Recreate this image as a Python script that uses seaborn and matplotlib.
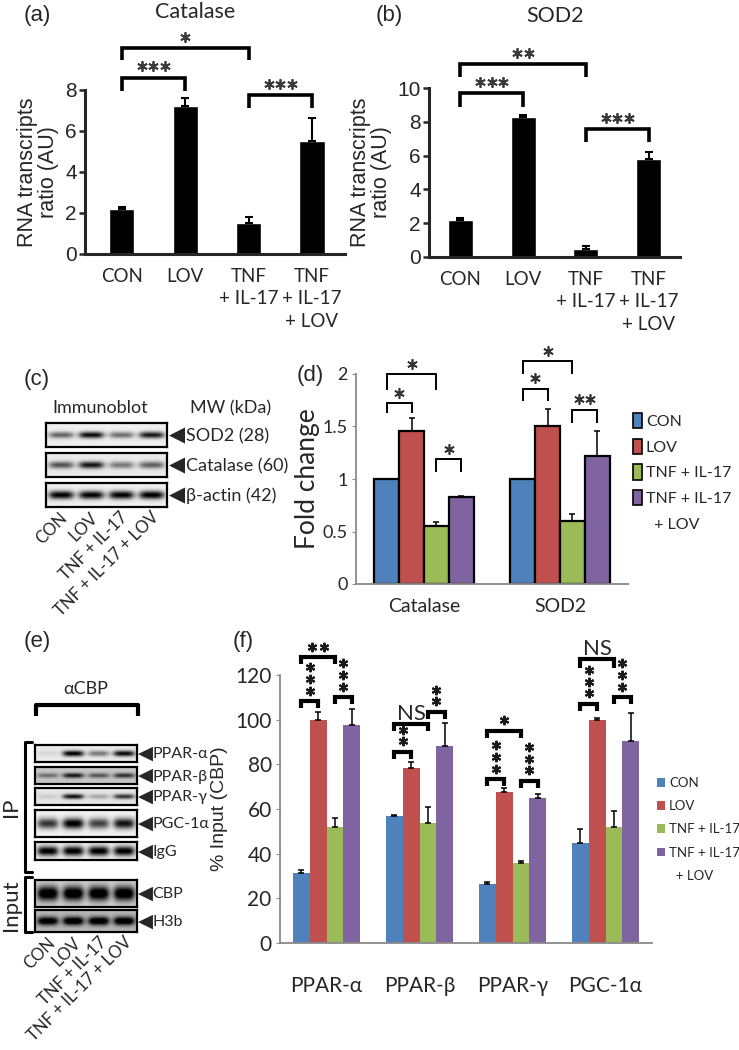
import numpy as np
import pandas as pd
import matplotlib
matplotlib.use("Agg")
import matplotlib.pyplot as plt
import matplotlib.transforms as mtrans
from matplotlib.patches import Patch
import seaborn as sns

W, H = 739, 1050

# ==================== data ====================
conds = ["CON", "LOV", "TNF + IL-17", "TNF + IL-17 + LOV"]
cond_ticks = ["CON", "LOV", "TNF\n+ IL-17", "TNF\n+ IL-17\n+ LOV"]

cat_rna = [2.2, 7.2, 1.5, 5.5]
cat_rna_err = [0.08, 0.42, 0.32, 1.15]
sod_rna = [2.2, 8.3, 0.45, 5.8]
sod_rna_err = [0.08, 0.08, 0.2, 0.42]

fold_genes = ["Catalase", "SOD2"]
fold_cat = [1.0, 1.46, 0.55, 0.83]
fold_cat_err = [0.0, 0.12, 0.04, 0.005]
fold_sod = [1.0, 1.5, 0.6, 1.22]
fold_sod_err = [0.0, 0.17, 0.07, 0.24]

cbp_targets = ["PPAR-α", "PPAR-β", "PPAR-γ", "PGC-1α"]
cbp_con = [31.2, 56.8, 26.4, 45.0]
cbp_con_err = [1.4, 0.3, 0.9, 6.0]
cbp_lov = [99.8, 78.3, 67.4, 99.8]
cbp_lov_err = [3.6, 2.7, 1.9, 0.8]
cbp_tnf = [52.0, 53.6, 35.9, 51.9]
cbp_tnf_err = [4.0, 7.4, 0.9, 7.3]
cbp_tnflov = [97.5, 88.2, 65.0, 90.5]
cbp_tnflov_err = [7.1, 10.2, 1.5, 12.6]

blot_c_rows = ["SOD2 (28)", "Catalase (60)", "β-actin (42)"]
blot_c_bands = [[0.55, 0.9, 0.5, 0.85], [0.6, 0.85, 0.45, 0.55], [0.95, 0.95, 0.95, 0.97]]
blot_c_bg = [0.06, 0.08, 0.06]
blot_c_thick = [0.28, 0.3, 0.35]

blot_e_rows = ["PPAR-α", "PPAR-β", "PPAR-γ", "PGC-1α", "IgG", "CBP", "H3b"]
blot_e_bands = [[0.08, 0.95, 0.45, 0.9], [0.35, 0.7, 0.45, 0.6], [0.1, 0.85, 0.25, 0.7],
                [0.75, 1.0, 0.7, 0.9], [1.0, 1.0, 1.0, 1.0], [1.0, 1.0, 1.0, 1.0],
                [0.85, 0.9, 0.9, 0.9]]
blot_e_bg = [0.08, 0.22, 0.1, 0.05, 0.05, 0.18, 0.28]
blot_e_thick = [0.35, 0.3, 0.3, 0.4, 0.55, 0.55, 0.4]

colors = ["#4F81BD", "#C0504D", "#9BBB59", "#8064A2"]

# ==================== setup ====================
sns.set_style("ticks")
plt.rcParams["font.family"] = ["Liberation Sans", "DejaVu Sans"]
NARROW = ["Lato", "DejaVu Sans"]

fig = plt.figure(figsize=(W / 100, H / 100), dpi=100)


def box(x0, y0, x1, y1):
    return [x0 / W, 1 - y1 / H, (x1 - x0) / W, (y1 - y0) / H]


def stars(ax, x, y, n, stack=False, step=8.0, lift=7.4, ms=7, mew=1.3, color="#333333"):
    # n six-armed asterisks above the bracket top at (x, y)
    for k in range(n):
        if stack:
            dx, dy = 0, lift + k * step
        else:
            dx, dy = (k - (n - 1) / 2) * step, lift
        tr = mtrans.offset_copy(ax.transData, fig=fig, x=dx, y=dy, units="points")
        ax.plot([x], [y], linestyle="none", marker=(6, 2, 0), ms=ms, mew=mew, color=color,
                transform=tr, clip_on=False)


def bracket(ax, xi, xj, y, leg, lw):
    ax.plot([xi, xi, xj, xj], [leg, y, y, leg], color="black", lw=lw, clip_on=False,
            solid_joinstyle="miter", solid_capstyle="butt")


# ==================== (a), (b) RNA ====================
def rna_panel(rect, vals, errs, ymax, xlim, brackets):
    ax = fig.add_axes(rect)
    sns.barplot(x=cond_ticks, y=vals, color="black", width=0.4, saturation=1,
                errorbar=None, ax=ax)
    ax.errorbar(range(4), vals, yerr=[np.zeros(4), errs], fmt="none", ecolor="black",
                elinewidth=1.5, capsize=3, capthick=1.5)
    ax.set_xlim(*xlim)
    ax.set_ylim(0, ymax)
    ax.set_yticks(range(0, ymax + 1, 2))
    sns.despine(ax=ax)
    for sp in ["left", "bottom"]:
        ax.spines[sp].set_linewidth(2.2)
    ax.tick_params(axis="y", direction="out", length=4, width=1.8, labelsize=15, pad=2)
    ax.tick_params(axis="x", length=0, pad=10)
    for t in ax.get_xticklabels():
        t.set_fontfamily(NARROW)
        t.set_fontsize(13.5)
        t.set_linespacing(1.4)
    ax.set_ylabel("RNA transcripts\nratio (AU)", fontsize=15.5, linespacing=1.0, labelpad=4)
    for i, j, y, leg, n in brackets:
        bracket(ax, i, j, y, leg, 2.6)
        stars(ax, (i + j) / 2, y, n, step=8.2, lift=8.2, ms=7.5, mew=1.3, color="#3a3a3a")
    return ax


ax_a = rna_panel(box(85, 90, 345, 254), cat_rna, cat_rna_err, 8, (-0.58, 3.52),
                 [(0, 1, 8.6, 7.95, 3), (0, 2, 10.05, 9.45, 1), (2, 3, 7.76, 7.12, 3)])
ax_b = rna_panel(box(429, 88, 680, 257), sod_rna, sod_rna_err, 10, (-0.5, 3.5),
                 [(0, 2, 11.42, 10.67, 2), (0, 1, 9.68, 8.9, 3), (2, 3, 7.55, 6.8, 3)])


# ==================== (d), (f) grouped bars ====================
def grouped(ax, groups, series, errs, width, edge):
    df = pd.DataFrame({
        "group": [g for g in groups for _ in conds],
        "cond": conds * len(groups),
        "val": [series[c][g] for g in range(len(groups)) for c in range(len(conds))],
    })
    sns.barplot(data=df, x="group", y="val", hue="cond", hue_order=conds, palette=colors,
                width=width, gap=0, saturation=1, errorbar=None, legend=False, ax=ax,
                edgecolor="black" if edge else "none", linewidth=1.6 if edge else 0)
    bar_sets = list(ax.containers)
    centers = np.zeros((len(groups), len(conds)))
    for h, cont in enumerate(bar_sets):
        for g, bar in enumerate(cont.patches):
            centers[g, h] = bar.get_x() + bar.get_width() / 2
    for h in range(len(conds)):
        for g in range(len(groups)):
            if errs[h][g] > 0:
                ax.errorbar(centers[g, h], series[h][g], yerr=[[0], [errs[h][g]]], fmt="none",
                            ecolor="black", elinewidth=1.1, capsize=2, capthick=1.1)
    return centers


def grey_axes(ax, ysize, xsize, xpad):
    sns.despine(ax=ax)
    for sp in ["left", "bottom"]:
        ax.spines[sp].set_color("#8a8a8a")
        ax.spines[sp].set_linewidth(1.3)
    ax.tick_params(axis="y", direction="out", length=3, color="#8a8a8a", labelsize=ysize, pad=3)
    ax.tick_params(axis="x", length=0, pad=xpad, labelsize=xsize)
    for t in ax.get_xticklabels() + ax.get_yticklabels():
        t.set_fontfamily(NARROW)
    ax.set_xlabel("")


ax_d = fig.add_axes(box(356, 374, 628, 584))
cen_d = grouped(ax_d, fold_genes, [list(v) for v in zip(fold_cat, fold_sod)],
                [list(v) for v in zip(fold_cat_err, fold_sod_err)], 0.73, True)
ax_d.set_xlim(-0.5, 1.5)
ax_d.set_ylim(0, 2)
ax_d.set_yticks([0, 0.5, 1, 1.5, 2])
ax_d.set_yticklabels(["0", "0.5", "1", "1.5", "2"])
grey_axes(ax_d, 13, 14, 10)
ax_d.set_ylabel("Fold change", fontsize=19, fontfamily=NARROW, labelpad=2)
for g, i, j, y, leg, n in [(0, 0, 1, 1.72, 1.63, 1), (0, 0, 2, 2.0, 1.85, 1),
                           (0, 2, 3, 1.19, 1.07, 1), (1, 0, 1, 1.86, 1.74, 1),
                           (1, 0, 2, 2.12, 2.0, 1), (1, 2, 3, 1.66, 1.53, 2)]:
    xi, xj = cen_d[g, i], cen_d[g, j]
    bracket(ax_d, xi, xj, y, leg, 1.4)
    stars(ax_d, (xi + xj) / 2, y, n, step=7.8, lift=7.4, ms=7.5, mew=1.2)
hd = [Patch(facecolor=c, edgecolor="black", linewidth=1.2) for c in colors]
hd.append(Patch(facecolor="none", edgecolor="none"))
fig.legend(hd, ["CON", "LOV", "TNF + IL-17", "TNF + IL-17", "  + LOV"], loc="upper left",
           bbox_to_anchor=(633 / W, 1 - 413 / H), frameon=False, borderpad=0,
           borderaxespad=0, handlelength=0.55, handleheight=1.1, handletextpad=0.25,
           labelspacing=0.6, prop={"family": NARROW, "size": 11.5})

ax_f = fig.add_axes(box(280, 675, 652, 943))
cen_f = grouped(ax_f, cbp_targets, [cbp_con, cbp_lov, cbp_tnf, cbp_tnflov],
                [cbp_con_err, cbp_lov_err, cbp_tnf_err, cbp_tnflov_err], 0.72, False)
ax_f.set_xlim(-0.5, 3.5)
ax_f.set_ylim(0, 120)
ax_f.set_yticks(range(0, 121, 20))
grey_axes(ax_f, 15, 15, 24)
ax_f.set_ylabel("% Input (CBP)", fontsize=14, labelpad=5)
for g, i, j, y, leg, s, stk in [
        (0, 0, 1, 108.2, 105.2, 3, True), (0, 2, 3, 110.0, 106.8, 3, True),
        (0, 0, 2, 128.0, 124.8, 2, False),
        (1, 0, 1, 85.5, 82.5, 2, True), (1, 0, 2, 98.0, 94.8, "NS", False),
        (1, 2, 3, 103.5, 100.4, 2, True),
        (2, 0, 1, 73.3, 70.2, 3, True), (2, 0, 2, 95.0, 91.8, 1, False),
        (2, 2, 3, 72.6, 69.6, 3, True),
        (3, 0, 1, 107.0, 103.8, 3, True), (3, 0, 2, 127.0, 123.0, "NS", False),
        (3, 2, 3, 110.0, 106.8, 3, True)]:
    xi, xj = cen_f[g, i], cen_f[g, j]
    bracket(ax_f, xi, xj, y, leg, 3)
    if s == "NS":
        tr = mtrans.offset_copy(ax_f.transData, fig=fig, y=7.5, units="points")
        ax_f.text((xi + xj) / 2, y, s, transform=tr, ha="center", va="center",
                  fontsize=16, fontfamily=NARROW, clip_on=False)
    else:
        stars(ax_f, (xi + xj) / 2, y, s, stack=stk, step=8.4, lift=7.6, ms=6.8, mew=1.5,
              color="#1a1a1a")
hf = [Patch(facecolor=c, edgecolor="none") for c in colors]
hf.append(Patch(facecolor="none", edgecolor="none"))
fig.legend(hf, ["CON", "LOV", "TNF + IL-17", "TNF + IL-17", "  + LOV"], loc="upper left",
           bbox_to_anchor=(657 / W, 1 - 777 / H), frameon=False, borderpad=0,
           borderaxespad=0, handlelength=0.6, handleheight=0.65, handletextpad=0.3,
           labelspacing=0.85, prop={"family": NARROW, "size": 9.5})


# ==================== blots (c), (e) ====================
def blot(rect, bands, bg, thick):
    ax = fig.add_axes(rect)
    yy = np.linspace(-1, 1, 40)[:, None]
    xx = np.linspace(0, 4, 240)[None, :]
    img = np.full((40, 240), bg)
    for k, b in enumerate(bands):
        lane = np.exp(-np.abs((xx - (k + 0.5)) / 0.42) ** 4)
        img = img + b * lane * np.exp(-(yy / thick) ** 2)
    ax.imshow(np.clip(img, 0, 1), cmap="gray_r", vmin=0, vmax=1, aspect="auto",
              extent=(0, 4, 1, -1), interpolation="bilinear")
    ax.set_xticks([])
    ax.set_yticks([])
    for sp in ax.spines.values():
        sp.set_linewidth(1.6)
        sp.set_color("black")
    return ax


ov = fig.add_axes([0, 0, 1, 1], zorder=-5)
ov.set_xlim(0, W)
ov.set_ylim(H, 0)
ov.axis("off")

c_rows = [(423, 447), (453, 477), (483, 507)]
for (y0, y1), name, bands, bg, th in zip(c_rows, blot_c_rows, blot_c_bands, blot_c_bg, blot_c_thick):
    blot(box(46, y0, 167, y1), bands, bg, th)
    yc = (y0 + y1) / 2
    ov.text(169, yc, "◀", fontsize=15, va="center", ha="left", family="DejaVu Sans")
    ov.text(186, yc + 1, name, fontsize=13, va="center", ha="left", family=NARROW)
ov.text(100, 408, "Immunoblot", fontsize=13, ha="center", va="center", family=NARROW)
ov.text(190, 408, "MW (kDa)", fontsize=13, ha="left", va="center", family=NARROW)
for k, lab in enumerate(conds):
    ov.text(65 + 30.3 * k, 515, lab, rotation=45, rotation_mode="anchor", ha="right",
            va="center", fontsize=12, family=NARROW)

e_rows = [(745, 762), (767, 784), (788, 805), (810, 837), (842, 860), (880, 907), (910, 932)]
for (y0, y1), name, bands, bg, th in zip(e_rows, blot_e_rows, blot_e_bands, blot_e_bg, blot_e_thick):
    blot(box(35, y0, 137, y1), bands, bg, th)
    yc = (y0 + y1) / 2
    ov.text(138, yc, "◀", fontsize=14, va="center", ha="left", family="DejaVu Sans")
    ov.text(152, yc + 1, name, fontsize=11.5, va="center", ha="left", family=NARROW)
ov.text(86, 689, "αCBP", fontsize=13, ha="center", va="center", family=NARROW)
ov.plot([36, 36, 138, 138], [716, 705, 705, 716], color="black", lw=3, solid_capstyle="butt")
ov.plot([32, 25, 25, 32], [742, 742, 872, 872], color="black", lw=2.2)
ov.plot([32, 25, 25, 32], [877, 877, 932, 932], color="black", lw=2.2)
ov.text(11, 807, "IP", rotation=90, fontsize=16, ha="center", va="center", family=NARROW)
ov.text(11, 905, "Input", rotation=90, fontsize=16, ha="center", va="center", family=NARROW)
for k, lab in enumerate(conds):
    ov.text(53 + 25.5 * k, 940, lab, rotation=45, rotation_mode="anchor", ha="right",
            va="center", fontsize=12, family=NARROW)

# titles and panel letters
ov.text(195, 12, "Catalase", fontsize=15.5, ha="center", va="center", family=NARROW)
ov.text(555, 16, "SOD2", fontsize=15.5, ha="center", va="center", family=NARROW)
for s, x, y in [("(a)", 37, 15), ("(b)", 389, 15), ("(c)", 37, 380), ("(d)", 310, 375),
                ("(e)", 37, 642), ("(f)", 243, 642)]:
    ov.text(x, y, s, fontsize=16, ha="center", va="center")

fig.savefig("out.png", dpi=100)
